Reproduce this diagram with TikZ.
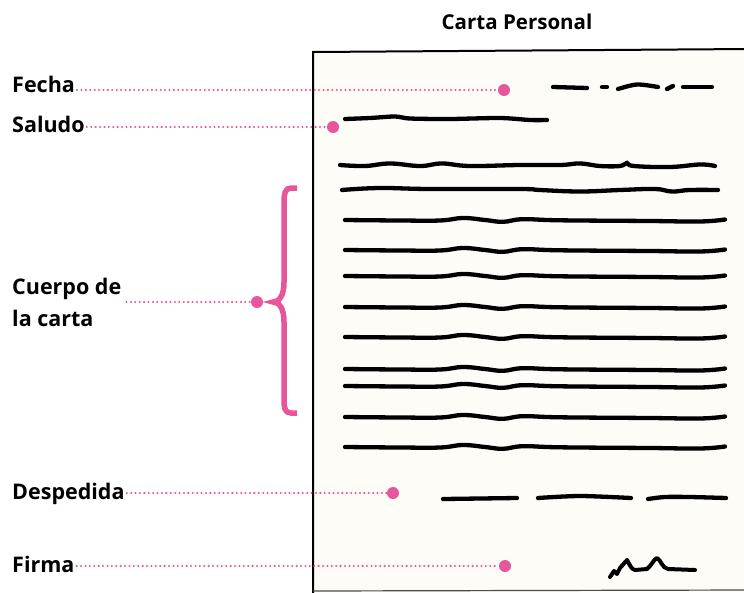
\documentclass[tikz,border=0pt]{standalone}
\usepackage{fontspec}
\setmainfont{Open Sans}
\usepackage{xcolor}
\definecolor{rosa}{HTML}{E5569B}
\definecolor{papel}{HTML}{FDFCF6}

% one wavy body line of the letter, at height #1
\newcommand{\renglon}[1]{%
  \draw [tinta, shift={(0,#1)}] plot [smooth, tension=0.7] coordinates
    {(345,0) (400,0.5) (440,0.5) (463,-2) (485,0) (503,1.8) (523,-0.8) (560,0.3)
     (650,1) (700,1.5) (725,-0.5)};}

\begin{document}
\begin{tikzpicture}[x=1pt,y=-1pt,
  etiqueta/.style={font=\bfseries\fontsize{21.5}{32}\selectfont, inner sep=0pt, anchor=base west},
  punto/.style={circle, fill=rosa, minimum size=12pt, inner sep=0pt},
  guia/.style={rosa, line width=2.3pt, line cap=round, dash pattern=on 0pt off 4.4pt},
  tinta/.style={black, line width=4.3pt, line cap=round}]
\useasboundingbox (0,0) rectangle (744,592);
% the sheet
\fill [papel] (313,52) -- (750,49) -- (750,592) -- (313,592) -- cycle;
\draw [black, line width=2pt] (313,595) -- (313,52) -- (750,49);
\draw [black!70, line width=1.2pt] (313,591) -- (750,590);
\node [font=\bfseries\fontsize{20.5}{24}\selectfont] (titulo) at (517,22) {Carta Personal};
% labels
\node [etiqueta] (fecha) at (12,92) {Fecha};
\node [etiqueta] (saludo) at (12,132) {Saludo};
\node [etiqueta, align=left, anchor=west] (cuerpo) at (12,302) {Cuerpo de\\la carta};
\node [etiqueta] (despedida) at (12,499) {Despedida};
\node [etiqueta] (firma) at (12,572) {Firma};
% dots
\node [punto] (pfecha) at (504,90) {};
\node [punto] (psaludo) at (333,127) {};
\node [punto] (pcuerpo) at (257,302) {};
\node [punto] (pdespedida) at (393,493) {};
\node [punto] (pfirma) at (505,566) {};
% dotted guides
\draw [guia] ([xshift=2pt]fecha.east |- pfecha) -- (pfecha);
\draw [guia] ([xshift=2pt]saludo.east |- psaludo) -- (psaludo);
\draw [guia] ([xshift=5pt]cuerpo.east |- pcuerpo) -- (pcuerpo);
\draw [guia] ([xshift=2pt]despedida.east |- pdespedida) -- (pdespedida);
\draw [guia] ([xshift=2pt]firma.east |- pfirma) -- (pfirma);
% brace
\draw [rosa, line width=5.5pt] (297,188) -- (291,188)
  .. controls (285,188) and (284,194) .. (284,202) -- (284,282)
  .. controls (284,296) and (279,302) .. (273,302)
  .. controls (279,302) and (284,308) .. (284,322) -- (284,400)
  .. controls (284,408) and (285,413) .. (291,413) -- (297,413);
% date
\draw [tinta] (553,87) -- (587,88);
\draw [tinta] (602,87) -- (607,87);
\draw [tinta] plot [smooth] coordinates {(618,89) (637,84.5) (658,87)};
\draw [tinta] (667,89) -- (673,86);
\draw [tinta] (683,87) -- (712,87);
% greeting
\draw [tinta] plot [smooth] coordinates
  {(345,119) (370,118) (395,116.5) (410,118.5) (450,119) (500,118) (530,120) (547,120)};
% body
\draw [tinta] plot [smooth, tension=0.7] coordinates
  {(340,165) (365,166) (390,163.5) (420,166) (442,163.5) (470,166) (520,165) (560,165)
   (580,163.5) (600,166) (620,166) (627,163) (634,166) (670,167) (700,164.5) (715,166)};
\draw [tinta] plot [smooth, tension=0.7] coordinates
  {(342,190) (380,188) (430,189) (520,189) (540,190) (580,191.5) (620,190) (655,189)
   (672,191.5) (690,190) (718,190)};
\foreach \y in {220,250,276,307,337,369,386,417,447}
  {\renglon{\y}}
% closing
\draw [tinta] (443,499) -- (517,498);
\draw [tinta] plot [smooth] coordinates {(538,498) (580,496) (631,498)};
\draw [tinta] plot [smooth] coordinates {(648,499) (665,497) (690,497) (726,498)};
% signature
\draw [black, line width=4pt, line cap=round, line join=round] (610,577)
  -- (614,571) -- (617,574) -- (620,568) -- (627,560)
  .. controls (630,565) and (631,569) .. (635,570) -- (647,569)
  .. controls (651,566) and (654,559) .. (657,558)
  .. controls (661,560) and (662,568) .. (668,569) -- (695,570);
\end{tikzpicture}
\end{document}
